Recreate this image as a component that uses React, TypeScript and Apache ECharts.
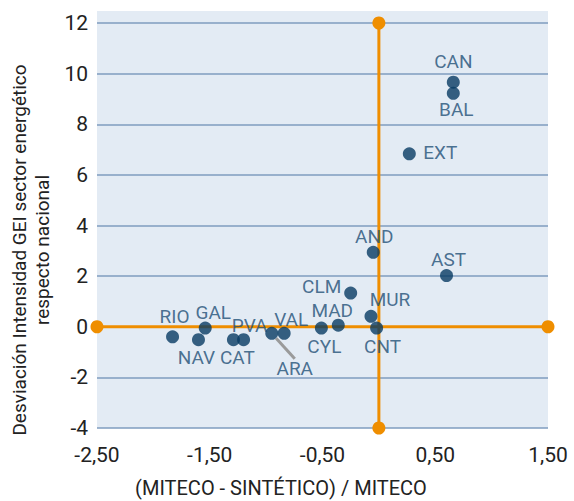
import React, { useEffect, useRef } from "react";
import * as echarts from "echarts";

const regions = ["CAN", "BAL", "EXT", "AND", "AST", "CLM", "MUR", "CNT", "MAD", "CYL", "VAL", "ARA", "PVA", "CAT", "GAL", "NAV", "RIO"];
const xValues = [0.66, 0.66, 0.27, -0.05, 0.6, -0.25, -0.07, -0.02, -0.36, -0.51, -0.84, -0.95, -1.2, -1.29, -1.54, -1.6, -1.83];
const yValues = [9.66, 9.22, 6.83, 2.94, 2.02, 1.33, 0.41, -0.05, 0.06, -0.05, -0.26, -0.26, -0.51, -0.51, -0.05, -0.51, -0.4];
const xTicks = [-2.5, -1.5, -0.5, 0.5, 1.5];
const yTicks = [-4, -2, 0, 2, 4, 6, 8, 10, 12];

// label offsets (styling)
const labelOffsets: Record<string, [number, number]> = {
  CAN: [0, -21], BAL: [3, 16], EXT: [31, -1], AND: [1, -16], AST: [2, -16],
  CLM: [-29, -7], MUR: [19, -17], CNT: [6, 18], MAD: [-6, -15], CYL: [3, 18],
  VAL: [7, -14], ARA: [23, 35], PVA: [6, -14], CAT: [4, 18], GAL: [8, -16],
  NAV: [-2, 18], RIO: [2, -20],
};

const FONT = "Roboto, 'Noto Sans', sans-serif";

export default function App() {
  const ref = useRef<HTMLDivElement>(null);
  useEffect(() => {
    document.body.style.margin = "0";
    if (!ref.current) return;
    const chart = echarts.init(ref.current, undefined, { renderer: "svg" });
    const xMin = xTicks[0];
    const xMax = xTicks[xTicks.length - 1];
    const yMin = yTicks[0];
    const yMax = yTicks[yTicks.length - 1];
    const data = regions.map((r, i) => ({
      name: r,
      value: [xValues[i], yValues[i]],
      labelLine: r === "ARA" ? { show: true, lineStyle: { color: "#9a9a9a", width: 3 } } : { show: false },
    }));
    chart.setOption({
      animation: false,
      textStyle: { fontFamily: FONT },
      grid: { left: 97, right: 26, top: 23, bottom: 73, show: true, backgroundColor: "#e3ebf4", borderWidth: 0 },
      graphic: [
        { type: "rect", silent: true, shape: { x: 97, y: 11, width: 451, height: 12 }, style: { fill: "#e3ebf4" } },
        {
          type: "text", silent: true, x: 281, y: 488,
          style: { text: "(MITECO - SINTÉTICO) / MITECO", fill: "#222", font: `20px ${FONT}`, textAlign: "center", textVerticalAlign: "middle" },
        },
        {
          type: "text", silent: true, x: 31, y: 250, rotation: Math.PI / 2,
          style: {
            text: "Desviación Intensidad GEI sector energético\nrespecto nacional",
            fill: "#222", font: `19px ${FONT}`, textAlign: "center", textVerticalAlign: "middle", lineHeight: 23,
          },
        },
      ],
      xAxis: {
        type: "value", min: xMin, max: xMax,
        axisLine: { show: false }, axisTick: { show: false }, splitLine: { show: false },
        axisLabel: {
          customValues: xTicks, fontSize: 21, color: "#222", margin: 16,
          formatter: (v: number) => v.toFixed(2).replace(".", ","),
        },
      },
      yAxis: {
        type: "value", min: yMin, max: yMax, interval: 2,
        axisLine: { show: false }, axisTick: { show: false },
        splitLine: { lineStyle: { color: "#7f9cbf", width: 1.5 } },
        axisLabel: { fontSize: 21, color: "#222", margin: 9 },
      },
      series: [
        {
          type: "line", data: [[0, yMin], [0, yMax]], symbol: "circle", symbolSize: 13,
          lineStyle: { color: "#ef8e00", width: 3 }, itemStyle: { color: "#ef8e00" }, clip: false, silent: true, z: 2,
        },
        {
          type: "line", data: [[xMin, 0], [xMax, 0]], symbol: "circle", symbolSize: 13,
          lineStyle: { color: "#ef8e00", width: 3 }, itemStyle: { color: "#ef8e00" }, clip: false, silent: true, z: 2,
        },
        {
          type: "scatter", data, symbolSize: 13, z: 5,
          itemStyle: { color: "#073b63" },
          label: {
            show: true, position: "inside", formatter: "{b}", color: "#1f4f76", fontSize: 19, fontFamily: FONT,
          },
          labelLayout: (p: any) => {
            const o = labelOffsets[regions[p.dataIndex]];
            return { dx: o[0], dy: o[1] };
          },
          labelLine: { show: false },
        },
      ],
    });
    return () => chart.dispose();
  }, []);
  return <div ref={ref} style={{ width: 574, height: 501 }} />;
}
